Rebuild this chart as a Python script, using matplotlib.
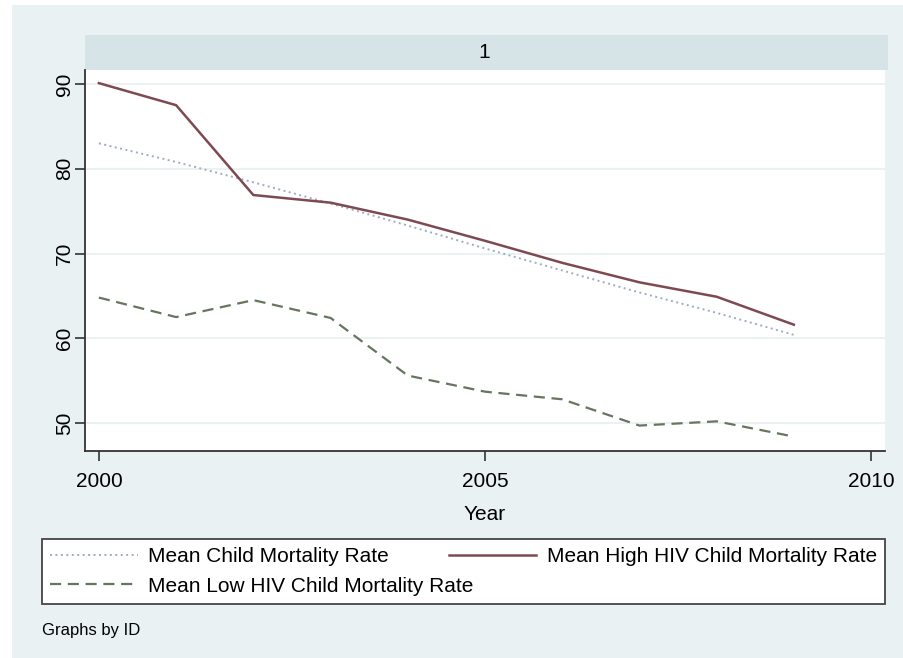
import numpy as np
import matplotlib.pyplot as plt
from matplotlib.patches import Rectangle

plt.rcParams['font.family'] = ['Liberation Sans', 'DejaVu Sans']

years = [2000, 2001, 2002, 2003, 2004, 2005, 2006, 2007, 2008, 2009]
mean_all = [83.0, 80.8, 78.4, 75.9, 73.3, 70.6, 68.0, 65.4, 63.0, 60.4]
mean_high = [90.1, 87.5, 76.9, 76.0, 74.0, 71.5, 68.9, 66.6, 64.9, 61.6]
mean_low = [64.8, 62.5, 64.5, 62.4, 55.6, 53.7, 52.8, 49.7, 50.2, 48.4]

labels = ["Mean Child Mortality Rate",
          "Mean High HIV Child Mortality Rate",
          "Mean Low HIV Child Mortality Rate"]
yticks = [50, 60, 70, 80, 90]
xticks = [2000, 2005, 2010]
panel = "1"

bg = "#e9f1f3"
strip_col = "#d6e4e8"
W, H = 904, 658

fig = plt.figure(figsize=(W / 100, H / 100), dpi=100)
fig.patch.set_facecolor("white")
# outer graph region, kept behind the axes
fig.patches.append(Rectangle((12 / W, 0), 1 - 12 / W, 1 - 5 / H,
                             transform=fig.transFigure, facecolor=bg,
                             edgecolor="none", zorder=-5))

ax = fig.add_axes([85 / W, 1 - 451 / H, 800 / W, 381 / H])
ax.set_facecolor("white")

# panel title strip
fig.patches.append(Rectangle((85 / W, 1 - 70 / H), 803 / W, 35 / H,
                             transform=fig.transFigure, facecolor=strip_col,
                             edgecolor="none", zorder=-4))
fig.text(484 / W, 1 - 52 / H, panel, ha="center", va="center", fontsize=15)

l1, = ax.plot(years, mean_all, color="#9eacbf", lw=1.4, linestyle=(0, (1, 1.8)))
l2, = ax.plot(years, mean_high, color="#7d4a52", lw=1.8)
l3, = ax.plot(years, mean_low, color="#667560", lw=1.6, linestyle=(0, (5, 3)))

ax.set_xlim(1999.82, 2010.18)
ax.set_ylim(46.7, 91.65)
ax.set_yticks(yticks)
ax.set_xticks(xticks)
ax.grid(axis="y", color="#e8f0f2", lw=1.2)
ax.set_axisbelow(True)
for s in ["top", "right"]:
    ax.spines[s].set_visible(False)
for s in ["left", "bottom"]:
    ax.spines[s].set_color("#333333")
    ax.spines[s].set_linewidth(1.3)
ax.tick_params(direction="out", length=7, width=1.2, color="#333333",
               labelsize=15)
ax.tick_params(axis="x", pad=8)
ax.tick_params(axis="y", pad=1)
plt.setp(ax.get_yticklabels(), rotation=90, va="center")
ax.set_xlabel("Year", fontsize=15, labelpad=10)

leg = fig.legend([l1, l3, l2], [labels[0], labels[2], labels[1]], ncol=2,
                 loc="lower left", mode="expand",
                 bbox_to_anchor=(42 / W, 1 - 604 / H, 843 / W, 64 / H),
                 fontsize=15, handlelength=4.2, frameon=True, fancybox=False,
                 borderaxespad=0, labelspacing=0.5, columnspacing=1.0,
                 handletextpad=0.5, borderpad=0.4)
leg.get_frame().set_edgecolor("#444444")
leg.get_frame().set_facecolor("white")
leg.get_frame().set_alpha(None)
leg.get_frame().set_linewidth(1.3)

fig.text(42 / W, 1 - 631 / H, "Graphs by ID", ha="left", va="center",
         fontsize=12)

fig.savefig("out.png", dpi=100)
